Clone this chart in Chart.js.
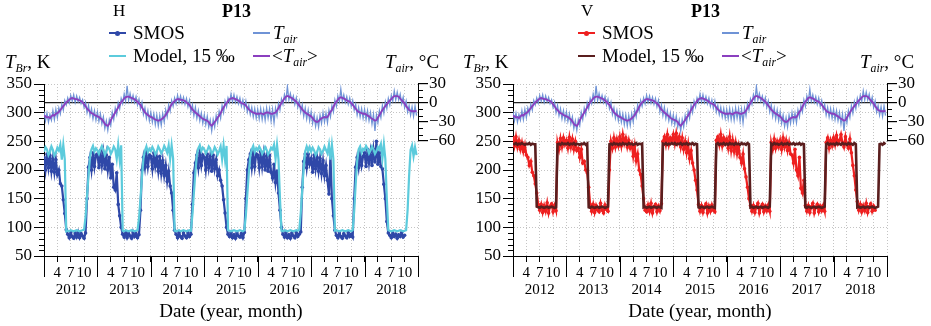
<!DOCTYPE html>
<html>
<head>
<meta charset="utf-8">
<script src="https://cdn.jsdelivr.net/npm/chart.js@4.4.1/dist/chart.umd.min.js"></script>
<style>
  html, body { margin: 0; padding: 0; background: #fff; }
  body { width: 931px; height: 326px; position: relative; overflow: hidden;
         font-family: "Liberation Serif", "Times New Roman", serif; color: #000; }
  .panel { position: absolute; top: 0; width: 462px; height: 326px; }
  .panel canvas { position: absolute; left: 0; top: 0; }
  .txt { position: absolute; white-space: nowrap; line-height: 20px; font-size: 19px; }
  .txt sub { font-size: 0.62em; vertical-align: -0.35em; font-style: italic; line-height: 0; }
  .b { font-weight: bold; }
  .ln { position: absolute; width: 17px; height: 2px; }
  .dot { position: absolute; width: 5px; height: 5px; border-radius: 50%; }
</style>
</head>
<body>

<div class="panel" style="left:0px">
  <canvas id="chartH" width="462" height="326"></canvas>
  <div class="txt" style="left:113px;top:1px;font-size:17px">H</div>
  <div class="txt b" style="left:222px;top:1px;font-size:18px">P13</div>
  <div class="ln" style="left:109px;top:32px;background:#2f48a8"></div>
  <div class="dot" style="left:115px;top:30.5px;background:#2f48a8"></div>
  <div class="txt" style="left:133px;top:23px">SMOS</div>
  <div class="ln" style="left:109px;top:54.5px;background:#5ccbdc"></div>
  <div class="txt" style="left:133px;top:46px">Model, 15 ‰</div>
  <div class="ln" style="left:253px;top:32px;background:#6f93d6"></div>
  <div class="txt" style="left:273px;top:23px"><i>T</i><sub>air</sub></div>
  <div class="ln" style="left:253px;top:54.5px;background:#8b3fbf"></div>
  <div class="txt" style="left:272px;top:46px">&lt;<i>T</i><sub>air</sub>&gt;</div>
  <div class="txt" style="left:5px;top:52px;font-size:19px"><i>T</i><sub>Br</sub>, K</div>
  <div class="txt" style="left:385px;top:52px;font-size:19px"><i>T</i><sub>air</sub>, °C</div>
</div>

<div class="panel" style="left:469px">
  <canvas id="chartV" width="462" height="326"></canvas>
  <div class="txt" style="left:112px;top:1px;font-size:17px">V</div>
  <div class="txt b" style="left:222px;top:1px;font-size:18px">P13</div>
  <div class="ln" style="left:109px;top:32px;background:#ee2020"></div>
  <div class="dot" style="left:115px;top:30.5px;background:#ee2020"></div>
  <div class="txt" style="left:133px;top:23px">SMOS</div>
  <div class="ln" style="left:109px;top:54.5px;background:#5a1e1e"></div>
  <div class="txt" style="left:133px;top:46px">Model, 15 ‰</div>
  <div class="ln" style="left:253px;top:32px;background:#6f93d6"></div>
  <div class="txt" style="left:273px;top:23px"><i>T</i><sub>air</sub></div>
  <div class="ln" style="left:253px;top:54.5px;background:#8b3fbf"></div>
  <div class="txt" style="left:272px;top:46px">&lt;<i>T</i><sub>air</sub>&gt;</div>
  <div class="txt" style="left:-6px;top:52px;font-size:19px"><i>T</i><sub>Br</sub>, K</div>
  <div class="txt" style="left:391px;top:52px;font-size:19px"><i>T</i><sub>air</sub>, °C</div>
</div>

<script>
// years on the x axis, month tick labels inside each year
const years = [2012, 2013, 2014, 2015, 2016, 2017, 2018];
const monthLabels = ['', '4', '7', '10'];
const samplesPerYear = 36; // one value every ~10 days
const tbTicks = [50, 100, 150, 200, 250, 300, 350];
const airTicks = [30, 0, -30, -60];

// air temperature, °C
const tAir = [
  -13,-28,-16,-30,-18,-27,-12,-26,-10,-23,-8,-17,-2,-11,4,-3,8,0,12,3,13,1,11,2,9,-1,5,-7,1,-15,-4,-20,-9,-25,-12,-27,
  -14,-29,-17,-33,-22,-40,-28,-43,-26,-35,-15,-26,-8,-18,0,-9,7,-1,14,3,27,4,15,3,12,1,10,-3,6,-9,1,-18,-8,-24,-12,-28,
  -15,-30,-17,-34,-19,-36,-20,-35,-17,-30,-11,-22,-3,-13,4,-5,8,-1,12,1,11,0,9,-2,7,-6,4,-14,-3,-20,-7,-24,-12,-28,-16,-32,
  -19,-34,-21,-38,-27,-44,-26,-38,-20,-31,-13,-24,-4,-15,3,-6,8,1,14,2,13,1,10,-1,8,-5,5,-8,3,-14,-4,-18,-7,-22,-9,-24,
  -10,-25,-9,-26,-11,-27,-8,-24,-9,-28,-10,-31,-8,-20,-1,-11,6,-2,13,4,26,5,15,3,11,-2,8,-7,3,-14,-3,-21,-8,-25,-11,-28,
  -14,-32,-19,-37,-23,-38,-19,-32,-15,-30,-16,-31,-11,-22,-4,-14,5,-5,11,2,22,3,13,1,10,-2,8,-5,4,-11,-2,-19,-7,-22,-9,-24,
  -10,-26,-12,-28,-15,-33,-18,-44,-19,-31,-12,-23,-4,-16,2,-9,7,-3,12,3,19,5,17,5,14,-1,9,-7,3,-14,-4,-19,-6,-21,-5,-20
];

// smoothed air temperature <T_air>, °C
const tAirMean = [
  -20,-21,-23,-22,-24,-21,-19,-20,-17,-16,-14,-11,-8,-5,-2,1,3,5,7,8,7,6,6,5,4,3,1,-2,-5,-9,-11,-14,-16,-17,-19,-20,
  -21,-22,-24,-26,-29,-33,-35,-36,-33,-27,-23,-19,-15,-11,-7,-3,1,4,7,9,10,10,9,8,7,6,4,2,-1,-3,-7,-11,-15,-17,-19,-21,
  -22,-23,-25,-26,-27,-28,-27,-26,-24,-22,-19,-15,-11,-6,-2,1,3,5,6,6,5,5,4,3,1,-1,-3,-7,-10,-13,-15,-17,-19,-21,-23,-25,
  -26,-27,-28,-30,-34,-36,-33,-30,-27,-23,-20,-16,-11,-7,-3,0,3,6,7,8,7,6,5,4,2,0,-1,-2,-4,-7,-10,-12,-14,-15,-16,-17,
  -17,-17,-16,-17,-18,-16,-15,-15,-16,-17,-17,-16,-15,-12,-8,-4,0,4,7,10,11,10,9,8,6,4,2,-1,-4,-7,-10,-13,-15,-17,-18,-20,
  -21,-24,-27,-29,-30,-29,-26,-24,-23,-22,-23,-22,-18,-14,-11,-6,-1,2,5,8,9,8,7,6,4,3,2,0,-3,-6,-9,-12,-14,-15,-16,-17,
  -17,-18,-20,-21,-23,-25,-26,-28,-27,-23,-19,-15,-11,-8,-5,-2,1,4,6,9,11,11,11,10,7,4,2,-1,-5,-8,-11,-12,-13,-13,-13,-12
];

// H polarization, K
const smosH = [
  222,200,228,204,225,198,220,196,218,192,200,176,172,148,124,96,88,82,91,84,81,90,83,92,82,89,85,81,90,150,205,222,200,230,206,226,
  228,204,234,208,230,202,226,200,222,186,210,170,165,195,140,120,100,88,83,91,82,89,85,81,92,84,89,82,87,130,200,222,204,230,206,226,
  224,202,230,206,222,198,224,194,216,190,208,180,198,172,160,130,95,88,82,91,84,81,90,85,82,91,84,88,140,195,212,226,204,230,208,226,
  222,200,228,204,224,198,226,202,218,190,200,182,172,148,125,100,88,84,91,82,87,81,90,85,83,89,82,91,150,200,218,228,204,230,206,228,
  226,204,232,206,228,200,224,198,226,196,186,210,178,198,160,130,100,88,83,91,82,87,81,90,85,82,91,84,88,92,170,215,228,204,228,210,
  220,196,226,202,222,198,220,194,216,190,208,182,158,226,150,120,95,86,82,90,84,81,89,85,82,91,84,88,83,150,205,222,204,228,208,224,
  230,206,236,212,232,208,236,214,250,210,230,206,202,175,150,110,90,86,82,90,84,88,81,87,84,91,83,86,null,null,null,null,null,null,null,null
];
const modelH = [
  232,240,236,226,231,241,235,225,230,239,234,244,218,244,219,93,94,93,95,94,93,94,95,94,93,94,95,96,118,155,190,222,236,242,232,238,
  234,228,236,242,235,226,232,240,237,228,233,241,236,219,244,218,243,94,93,95,94,93,94,95,94,93,94,95,115,150,188,220,234,241,231,237,
  233,240,235,227,232,241,236,229,234,242,237,230,243,219,243,220,94,93,94,95,93,94,95,94,93,94,95,94,122,160,196,226,238,243,233,239,
  236,229,234,241,237,228,232,240,235,227,233,241,219,243,218,242,95,94,93,94,95,94,93,94,95,94,93,95,121,158,195,224,236,242,231,238,
  234,241,236,228,233,240,235,227,232,239,236,244,219,244,218,150,94,93,95,94,93,94,95,94,93,94,95,94,96,125,165,205,232,241,233,240,
  232,239,234,226,231,240,236,228,233,241,235,229,244,218,244,219,94,95,94,93,94,95,94,93,94,95,94,93,95,128,175,215,236,241,230,237,
  235,242,237,229,234,241,236,228,233,240,236,245,220,245,219,150,95,94,93,94,95,94,93,94,95,94,93,94,95,130,190,235,243,224,240,226
];

// V polarization, K
const smosV = [
  256,242,258,240,252,236,248,232,244,226,222,208,215,196,190,176,160,140,130,140,126,138,128,143,125,137,141,127,138,129,248,236,255,240,256,244,
  252,238,257,240,254,236,250,234,238,222,236,212,215,200,195,170,140,128,140,126,138,130,127,142,130,125,139,131,128,200,250,238,256,240,254,242,
  258,242,262,246,256,240,252,238,246,224,242,216,228,200,192,172,150,130,127,139,128,142,125,136,140,127,137,129,141,250,258,244,262,244,256,250,
  262,246,264,248,258,240,256,236,250,230,246,220,234,212,200,182,165,140,128,138,126,136,141,125,137,128,139,130,127,252,258,244,262,242,256,246,
  254,238,258,234,252,232,248,228,242,222,212,228,202,188,170,150,138,128,138,126,136,142,125,135,140,127,137,129,139,128,248,236,254,238,250,240,
  252,236,256,240,252,234,248,228,226,212,236,200,190,222,168,160,182,138,128,138,126,136,142,125,135,140,127,137,129,138,128,248,256,238,252,242,
  256,244,260,246,252,262,248,240,258,244,238,254,230,208,190,165,145,130,140,127,138,129,142,126,136,141,128,137,130,null,null,null,null,null,null,null
];
const modelV = [
  246,245,247,244,246,245,247,245,244,246,245,247,244,246,245,245,136,135,134,136,135,134,135,136,134,135,136,135,134,135,245,246,244,247,245,246,
  245,247,244,246,245,247,244,246,245,244,246,245,247,244,246,135,134,136,135,134,135,136,134,135,136,135,134,135,136,245,246,244,247,245,246,244,
  246,244,247,245,246,244,247,245,246,244,245,247,244,246,245,246,135,136,134,135,136,134,135,136,135,134,136,135,134,246,245,247,244,246,245,247,
  245,247,244,246,245,247,244,246,245,247,244,246,245,247,244,246,245,135,134,136,135,134,135,136,134,135,136,135,134,245,247,244,246,245,247,244,
  246,244,247,245,246,244,247,245,246,244,247,245,246,244,247,245,135,136,134,135,136,134,135,136,134,135,136,135,134,136,246,244,247,245,246,244,
  245,247,244,246,245,247,244,246,245,247,244,246,245,247,244,246,245,135,134,136,135,134,135,136,134,135,136,135,134,135,136,245,247,244,246,245,
  246,244,247,245,246,244,247,245,246,244,247,245,246,244,247,245,135,136,134,135,136,134,135,136,134,135,136,135,134,135,136,245,246,244,247,245
];

const FONT = 'Liberation Serif';
const firstYear = years[0];
const lastYear = years[years.length - 1] + 1;

function toPoints(arr) {
  return arr.map((v, i) => ({ x: firstYear + i / samplesPerYear, y: v }));
}

// minor ticks, the short right border and the long year ticks
const axisExtras = {
  id: 'axisExtras',
  afterDraw(chart) {
    const { ctx, chartArea: a, scales: { x, y, y2 } } = chart;
    ctx.save();
    ctx.strokeStyle = '#000';
    ctx.lineWidth = 1;
    ctx.beginPath();
    for (let v = 60; v < 350; v += 10) {
      if (v % 50 === 0) continue;
      const py = Math.round(y.getPixelForValue(v)) + 0.5;
      ctx.moveTo(a.left - 5, py);
      ctx.lineTo(a.left, py);
    }
    for (let v = -50; v < 30; v += 10) {
      if (v % 30 === 0) continue;
      const py = Math.round(y2.getPixelForValue(v)) + 0.5;
      ctx.moveTo(a.right, py);
      ctx.lineTo(a.right + 5, py);
    }
    const rx = Math.round(a.right) + 0.5;
    ctx.moveTo(rx, y2.getPixelForValue(30));
    ctx.lineTo(rx, y2.getPixelForValue(-60));
    for (let yr = firstYear; yr <= lastYear; yr++) {
      const px = Math.round(x.getPixelForValue(yr)) + 0.5;
      ctx.moveTo(px, a.bottom);
      ctx.lineTo(px, a.bottom + 21);
    }
    ctx.stroke();
    ctx.restore();
  }
};

function makeChart(id, smos, model, smosColor, modelColor, modelWidth) {
  const ctx = document.getElementById(id).getContext('2d');
  return new Chart(ctx, {
    type: 'line',
    data: {
      datasets: [
        { label: 'Model, 15 ‰', data: toPoints(model), borderColor: modelColor,
          borderWidth: modelWidth, pointRadius: 0, yAxisID: 'y', order: 1 },
        { label: 'SMOS', data: toPoints(smos), borderColor: smosColor, backgroundColor: smosColor,
          borderWidth: 2.2, pointRadius: 1.8, pointBorderWidth: 0, yAxisID: 'y', order: 2 },
        { label: '<Tair>', data: toPoints(tAirMean), borderColor: '#8b3fbf',
          borderWidth: 1.8, pointRadius: 0, yAxisID: 'y2', order: 3 },
        { label: 'Tair', data: toPoints(tAir), borderColor: '#6f93d6',
          borderWidth: 1.3, pointRadius: 0, yAxisID: 'y2', order: 4 }
      ]
    },
    options: {
      responsive: false,
      animation: false,
      layout: { padding: { top: 84, left: 0, right: 0, bottom: 0 } },
      elements: { line: { tension: 0 } },
      plugins: { legend: { display: false }, tooltip: { enabled: false } },
      scales: {
        x: {
          type: 'linear',
          min: firstYear,
          max: lastYear,
          afterBuildTicks: s => {
            s.ticks = [];
            for (let v = firstYear; v <= lastYear; v += 0.25) s.ticks.push({ value: v });
          },
          afterFit: s => { s.height = 70; },
          ticks: {
            autoSkip: false, maxRotation: 0, minRotation: 0, padding: 2, color: '#000',
            font: { family: FONT, size: 15, lineHeight: 1.17 },
            callback: v => {
              const yr = Math.floor(v + 1e-6);
              const q = Math.round((v - yr) * 4);
              if (q === 2) return [monthLabels[q], String(yr)];
              return monthLabels[q] || '';
            }
          },
          grid: {
            color: c => (c.tick && c.tick.value === firstYear) ? 'rgba(0,0,0,0)' : '#c4c4c4',
            tickLength: 6, tickColor: '#000'
          },
          border: { color: '#000', width: 1, dash: [1, 2] },
          title: {
            display: true, text: 'Date (year, month)', color: '#000',
            font: { family: FONT, size: 19, lineHeight: 1.2 },
            padding: { top: 1, bottom: 3 }
          }
        },
        y: {
          position: 'left',
          min: 50,
          max: 350,
          afterBuildTicks: s => { s.ticks = tbTicks.map(v => ({ value: v })); },
          afterFit: s => { s.width = 44; },
          ticks: { color: '#000', padding: 2, font: { family: FONT, size: 17 } },
          grid: {
            color: c => (c.tick && c.tick.value === 50) ? 'rgba(0,0,0,0)' : '#c4c4c4',
            tickLength: 10, tickColor: '#000'
          },
          border: { color: '#000', width: 1, dash: [1, 2] }
        },
        y2: {
          position: 'right',
          min: -241.6,
          max: 30,
          afterBuildTicks: s => { s.ticks = airTicks.map(v => ({ value: v })); },
          afterFit: s => { s.width = 44; },
          ticks: {
            color: '#000', padding: 1, font: { family: FONT, size: 17 },
            callback: v => v < 0 ? '\u2212' + (-v) : String(v)
          },
          grid: {
            color: c => (c.tick && c.tick.value === 0) ? '#222' : 'rgba(0,0,0,0)',
            lineWidth: 1.2, tickLength: 10, tickColor: '#000'
          },
          border: { display: false }
        }
      }
    },
    plugins: [axisExtras]
  });
}

makeChart('chartH', smosH, modelH, '#2f48a8', '#5ccbdc', 2.2);
makeChart('chartV', smosV, modelV, '#ee2020', '#5a1e1e', 2.6);
</script>
</body>
</html>
